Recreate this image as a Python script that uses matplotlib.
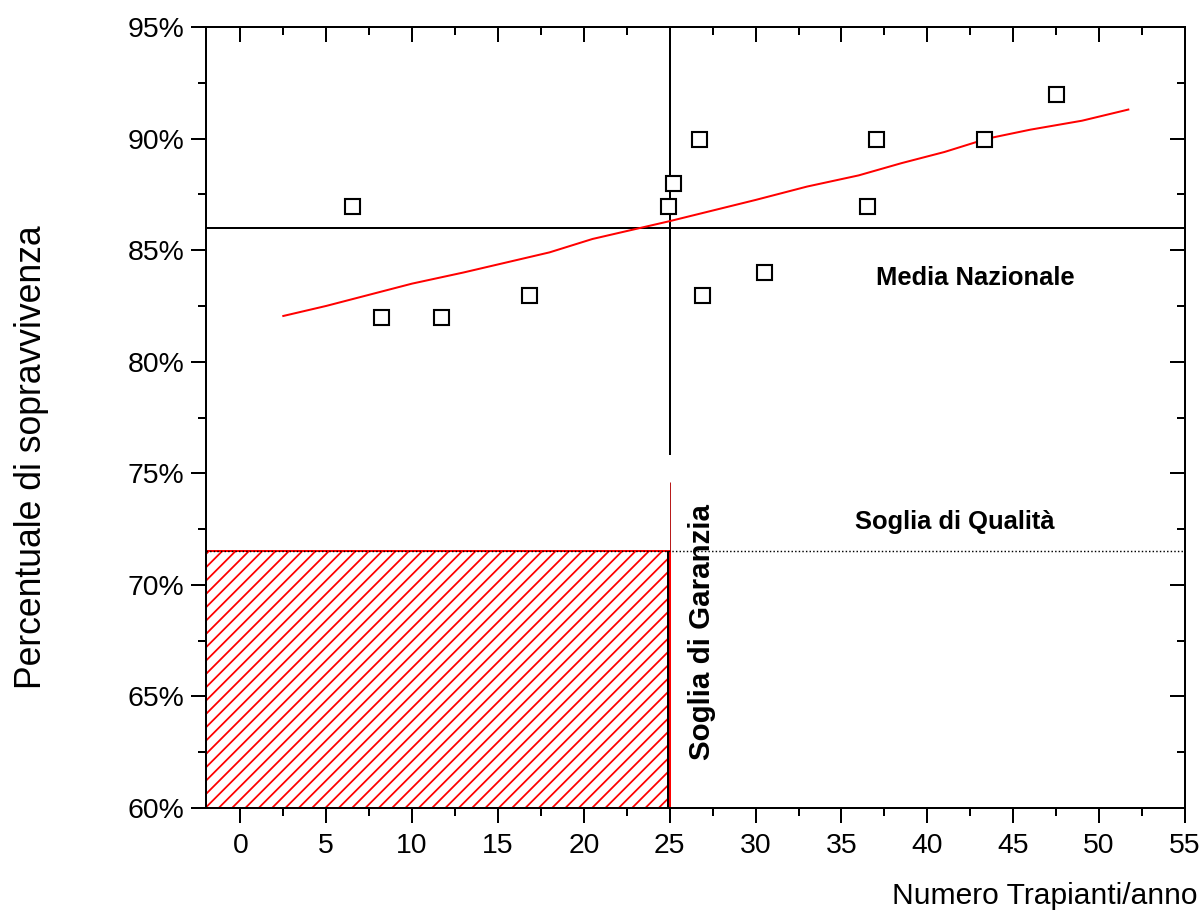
import numpy as np
import matplotlib.pyplot as plt
from matplotlib.patches import Rectangle
from matplotlib.ticker import MultipleLocator, FuncFormatter

plt.rcParams['font.family'] = ['Liberation Sans', 'DejaVu Sans']
plt.rcParams['hatch.linewidth'] = 1.6

# Data
trapianti = [6.5, 8.2, 11.7, 16.8, 24.9, 25.2, 26.7, 26.9, 30.5, 36.5, 37.0, 43.3, 47.5]
sopravvivenza = [87, 82, 82, 83, 87, 88, 90, 83, 84, 87, 90, 90, 92]

fit_x = [2.5, 5, 8, 10, 13, 18, 20.5, 25, 30, 33, 36, 38.5, 41, 43.5, 46, 49, 51.7]
fit_y = [82.05, 82.5, 83.1, 83.5, 84.0, 84.9, 85.5, 86.3, 87.25, 87.85, 88.35,
         88.9, 89.4, 90.0, 90.4, 90.8, 91.3]

media_nazionale = 86
soglia_qualita = 71.5
soglia_garanzia = 25

# Plotting
fig = plt.figure(figsize=(1203 / 80, 915 / 80), dpi=80)
ax = fig.add_axes([206 / 1203, 107 / 915, 979 / 1203, 781 / 915])
ax.set_xlim(-2, 55)
ax.set_ylim(60, 95)

# zona sotto soglia (tratteggiata)
ax.add_patch(Rectangle((-2, 60), soglia_garanzia + 2, soglia_qualita - 60,
                       facecolor="none", edgecolor="red", hatch="//",
                       linewidth=1.8, zorder=1))
ax.plot([-2, 55], [soglia_qualita, soglia_qualita], color="black",
        linestyle=(0, (1, 1.5)), linewidth=1.3, zorder=2)

ax.axhline(media_nazionale, color="black", linewidth=1.8, zorder=2)
ax.vlines(soglia_garanzia, 75.8, 95, color="black", linewidth=1.8, zorder=2)
ax.vlines(soglia_garanzia, soglia_qualita, 74.6, color="#b00000", linewidth=0.8, zorder=2)
ax.vlines(soglia_garanzia - 0.08, 60, soglia_qualita, color="black", linewidth=1.8, zorder=2)

ax.plot(fit_x, fit_y, color="red", linewidth=1.8, zorder=3)
ax.plot(trapianti, sopravvivenza, linestyle="none", marker="s", markersize=13.5,
        markerfacecolor="white", markeredgecolor="black", markeredgewidth=1.9, zorder=4)

ax.text(37.0, 83.75, "Media Nazionale", fontsize=23, fontweight="bold", va="center")
ax.text(35.8, 72.8, "Soglia di Qualità", fontsize=23, fontweight="bold", va="center")
ax.text(26.85, 67.9, "Soglia di Garanzia", fontsize=26.5, fontweight="bold",
        rotation=90, ha="center", va="center")

# Axes style
for s in ax.spines.values():
    s.set_linewidth(1.8)
ax.xaxis.set_major_locator(MultipleLocator(5))
ax.xaxis.set_minor_locator(MultipleLocator(2.5))
ax.yaxis.set_major_locator(MultipleLocator(5))
ax.yaxis.set_minor_locator(MultipleLocator(2.5))
ax.yaxis.set_major_formatter(FuncFormatter(lambda v, p: f"{v:.0f}%"))
ax.tick_params(which="major", direction="out", length=13.5, width=1.8, labelsize=25.5)
ax.tick_params(which="minor", direction="out", length=7, width=1.8)
ax.tick_params(axis="x", pad=9)
ax.tick_params(axis="y", pad=6)

top = ax.secondary_xaxis("top")
right = ax.secondary_yaxis("right")
for sec, axis in ((top, top.xaxis), (right, right.yaxis)):
    axis.set_major_locator(MultipleLocator(5))
    axis.set_minor_locator(MultipleLocator(2.5))
    sec.tick_params(which="major", direction="in", length=13.5, width=1.8,
                    labeltop=False, labelright=False)
    sec.tick_params(which="minor", direction="in", length=7, width=1.8)
    for s in sec.spines.values():
        s.set_linewidth(1.8)

ax.set_xlabel("Numero Trapianti/anno", fontsize=27, ha="right")
ax.xaxis.set_label_coords(1.013, -0.095)
ax.set_ylabel("Percentuale di sopravvivenza", fontsize=32)
ax.yaxis.set_label_coords(-0.16, 0.449)

fig.savefig("out.png", dpi=80)
